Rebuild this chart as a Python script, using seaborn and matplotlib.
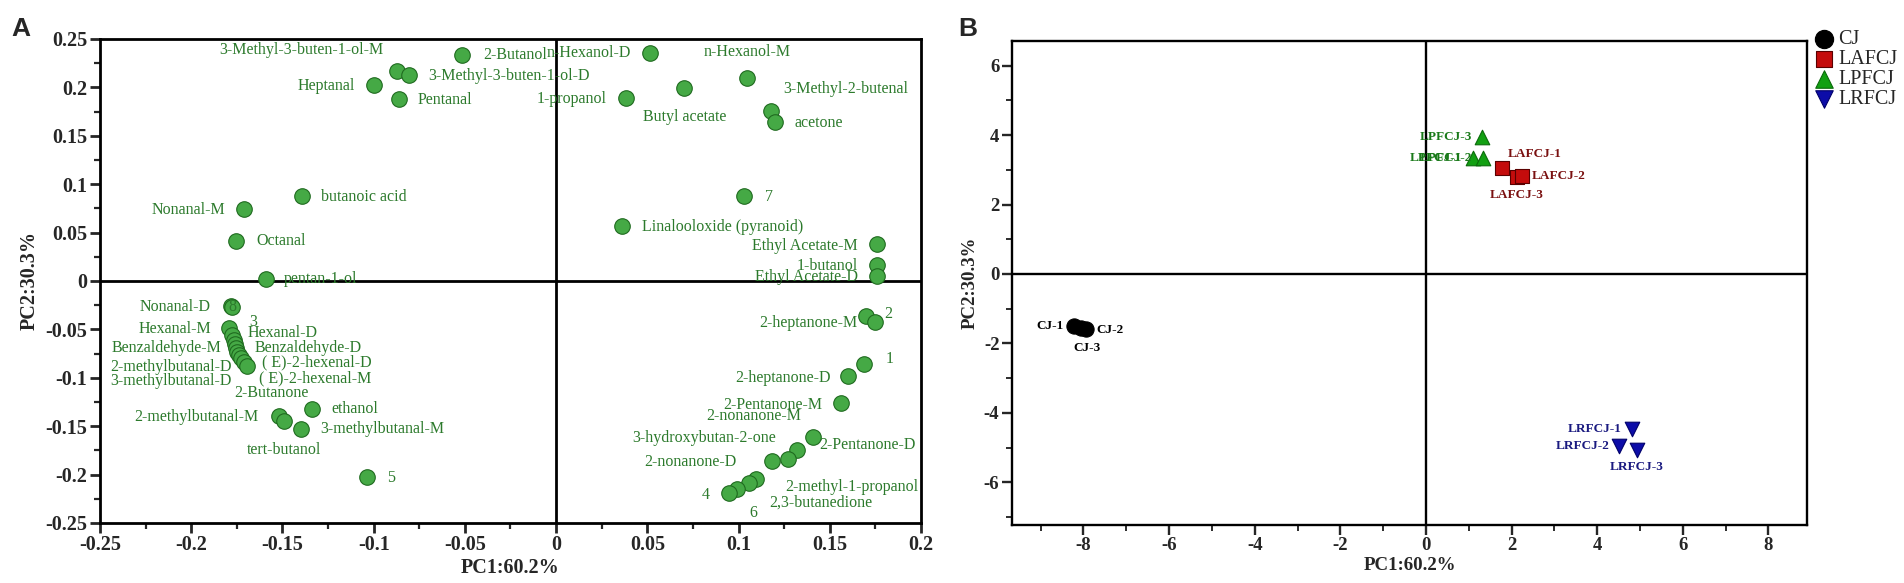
import numpy as np
import pandas as pd
import matplotlib
matplotlib.use("Agg")
import matplotlib.pyplot as plt
import seaborn as sns
from matplotlib.ticker import MultipleLocator

# ---- panel A: loadings ----
names = ["3-Methyl-3-buten-1-ol-M", "3-Methyl-3-buten-1-ol-D", "Heptanal", "Pentanal", "2-Butanol",
         "n-Hexanol-D", "n-Hexanol-M", "Butyl acetate", "1-propanol", "3-Methyl-2-butenal", "acetone",
         "7", "Linalooloxide (pyranoid)", "Ethyl Acetate-M", "1-butanol", "Ethyl Acetate-D",
         "butanoic acid", "Nonanal-M", "Octanal", "pentan-1-ol", "Nonanal-D", "8",
         "Hexanal-M", "3", "Hexanal-D", "Benzaldehyde-M", "Benzaldehyde-D", "2-methylbutanal-D",
         "( E)-2-hexenal-D", "3-methylbutanal-D", "( E)-2-hexenal-M", "2-Butanone",
         "2-methylbutanal-M", "tert-butanol", "ethanol", "3-methylbutanal-M", "5",
         "2-heptanone-M", "2", "1", "2-heptanone-D", "2-Pentanone-M", "2-nonanone-M", "2-Pentanone-D",
         "3-hydroxybutan-2-one", "2-nonanone-D", "2-methyl-1-propanol", "2,3-butanedione", "6", "4"]
pc1 = [-0.0872, -0.0806, -0.0998, -0.0861, -0.0515,
       0.0515, 0.1047, 0.0702, 0.0384, 0.1179, 0.1201,
       0.1031, 0.0362, 0.176, 0.176, 0.176,
       -0.1393, -0.1711, -0.1754, -0.159, -0.1782, -0.1776,
       -0.1793, -0.1776, -0.1765, -0.176, -0.1754, -0.1749,
       -0.1738, -0.1727, -0.1711, -0.1694,
       -0.1519, -0.1491, -0.1338, -0.1398, -0.1036,
       0.170, 0.1749, 0.1689, 0.1601, 0.1563, 0.1409, 0.1321,
       0.1272, 0.1184, 0.1096, 0.1058, 0.0992, 0.0948]
pc2 = [0.2169, 0.2128, 0.2025, 0.188, 0.2335,
       0.2355, 0.2097, 0.1994, 0.189, 0.1756, 0.1643,
       0.0878, 0.0568, 0.0382, 0.0165, 0.0052,
       0.0878, 0.0744, 0.0413, 0.0021, -0.0258, -0.0269,
       -0.0486, -0.0558, -0.0610, -0.0651, -0.0692, -0.0733,
       -0.0764, -0.0795, -0.0837, -0.0878,
       -0.1395, -0.1446, -0.1322, -0.1529, -0.2025,
       -0.0362, -0.0424, -0.0857, -0.0981, -0.126, -0.1612, -0.1746,
       -0.1839, -0.1860, -0.2045, -0.2087, -0.2149, -0.219]

# label placement (offset in pixels from the point, alignment)
label_pos = {
    "3-Methyl-3-buten-1-ol-M": (-14, 21, "right"), "3-Methyl-3-buten-1-ol-D": (19, -1, "left"),
    "Heptanal": (-19, -1, "right"), "Pentanal": (19, -1, "left"), "2-Butanol": (21, 0, "left"),
    "n-Hexanol-D": (-19, 0, "right"), "n-Hexanol-M": (0, 26, "center"), "Butyl acetate": (1, -29, "center"),
    "1-propanol": (-20, -1, "right"), "3-Methyl-2-butenal": (12, 22, "left"), "acetone": (19, -1, "left"),
    "7": (21, -1, "left"), "Linalooloxide (pyranoid)": (20, -1, "left"),
    "Ethyl Acetate-M": (-19, -2, "right"), "1-butanol": (-19, -1, "right"), "Ethyl Acetate-D": (-19, -1, "right"),
    "butanoic acid": (19, -1, "left"), "Nonanal-M": (-19, -1, "right"), "Octanal": (20, 0, "left"),
    "pentan-1-ol": (18, 0, "left"), "Nonanal-D": (-20, -1, "right"), "8": (0, 0, "center"),
    "Hexanal-M": (-18, -1, "right"), "3": (17, 13, "left"), "Hexanal-D": (13, 7, "left"),
    "Benzaldehyde-M": (-14, -4, "right"), "Benzaldehyde-D": (18, 0, "left"),
    "2-methylbutanal-D": (-5, -15, "right"), "( E)-2-hexenal-D": (23, -7, "left"),
    "3-methylbutanal-D": (-9, -23, "right"), "( E)-2-hexenal-M": (15, -16, "left"),
    "2-Butanone": (24, -27, "center"), "2-methylbutanal-M": (-20, -1, "right"),
    "tert-butanol": (0, -29, "center"), "ethanol": (19, 0, "left"), "3-methylbutanal-M": (19, 0, "left"),
    "5": (20, -1, "left"), "2-heptanone-M": (-107, -7, "left"), "2": (9, 8, "left"), "1": (21, 5, "left"),
    "2-heptanone-D": (-113, -2, "left"), "2-Pentanone-M": (-118, -2, "left"),
    "2-nonanone-M": (-107, 21, "left"), "2-Pentanone-D": (22, 5, "left"),
    "3-hydroxybutan-2-one": (-156, 21, "left"), "2-nonanone-D": (-128, -1, "left"),
    "2-methyl-1-propanol": (29, -8, "left"), "2,3-butanedione": (20, -20, "left"),
    "6": (16, -24, "center"), "4": (-19, -2, "right"),
}

a_xticks = [-0.25, -0.2, -0.15, -0.1, -0.05, 0, 0.05, 0.1, 0.15, 0.2]
a_xlabels = ["-0.25", "-0.2", "-0.15", "-0.1", "-0.05", "0", "0.05", "0.1", "0.15", "0.2"]
a_yticks = [-0.25, -0.2, -0.15, -0.1, -0.05, 0, 0.05, 0.1, 0.15, 0.2, 0.25]
a_ylabels = ["-0.25", "-0.2", "-0.15", "-0.1", "-0.05", "0", "0.05", "0.1", "0.15", "0.2", "0.25"]

# ---- panel B: scores ----
samples = ["CJ-1", "CJ-3", "CJ-2", "LAFCJ-1", "LAFCJ-3", "LAFCJ-2",
           "LPFCJ-3", "LPFCJ-1", "LPFCJ-2", "LRFCJ-1", "LRFCJ-2", "LRFCJ-3"]
groups = ["CJ", "CJ", "CJ", "LAFCJ", "LAFCJ", "LAFCJ",
          "LPFCJ", "LPFCJ", "LPFCJ", "LRFCJ", "LRFCJ", "LRFCJ"]
score1 = [-8.22, -8.05, -7.94, 1.78, 2.12, 2.24, 1.31, 1.10, 1.33, 4.81, 4.50, 4.93]
score2 = [-1.50, -1.55, -1.58, 3.06, 2.79, 2.83, 3.95, 3.34, 3.34, -4.47, -4.96, -5.07]
group_order = ["CJ", "LAFCJ", "LPFCJ", "LRFCJ"]

sample_pos = {
    "CJ-1": (-10, 0, "right"), "CJ-2": (10, -1, "left"), "CJ-3": (6, -20, "center"),
    "LAFCJ-1": (6, 14, "left"), "LAFCJ-2": (10, 0, "left"), "LAFCJ-3": (0, -18, "center"),
    "LPFCJ-3": (-10, 0, "right"), "LPFCJ-1": (-11, 0, "right"), "LPFCJ-2": (-11, 0, "right"),
    "LRFCJ-1": (-10, 0, "right"), "LRFCJ-2": (-9, 0, "right"), "LRFCJ-3": (0, -17, "center"),
}

b_ticks = [-8, -6, -4, -2, 0, 2, 4, 6, 8]
b_yticks = [-6, -4, -2, 0, 2, 4, 6]

sns.set_style("white")
plt.rcParams['font.family'] = ['Liberation Serif', 'DejaVu Serif']
plt.rcParams['axes.unicode_minus'] = False

marker_map = {"CJ": "o", "LAFCJ": "s", "LPFCJ": "^", "LRFCJ": "v"}
face_map = {"CJ": "black", "LAFCJ": "#c40c0c", "LPFCJ": "#12a012", "LRFCJ": "#0c0ca8"}
edge_map = {"CJ": "black", "LAFCJ": "#5a0000", "LPFCJ": "#0a6a0a", "LRFCJ": "#00006a"}
text_map = {"CJ": "black", "LAFCJ": "#7a1010", "LPFCJ": "#1a7a1a", "LRFCJ": "#1a1a80"}
size_map = {"CJ": 120, "LAFCJ": 95, "LPFCJ": 110, "LRFCJ": 110}

fig = plt.figure(figsize=(19.04, 5.83), dpi=100)
axA = fig.add_axes([100 / 1904, 60 / 583, 821 / 1904, 484 / 583])
axB = fig.add_axes([1012 / 1904, 58 / 583, 795 / 1904, 484 / 583])

# panel A
dfA = pd.DataFrame({"name": names, "pc1": pc1, "pc2": pc2})
axA.axhline(0, color="black", lw=2.0, zorder=1)
axA.axvline(0, color="black", lw=2.0, zorder=1)
sns.scatterplot(data=dfA, x="pc1", y="pc2", ax=axA, s=125, color="#45a945",
                edgecolor="#1f6a1f", linewidth=0.8, zorder=3)
for n, x, y in zip(names, pc1, pc2):
    dx, dy, ha = label_pos[n]
    axA.annotate(n, (x, y), xytext=(dx, dy), textcoords="offset pixels", ha=ha, va="center",
                 fontsize=11.5, color="#2c7a2c", zorder=4)
axA.set_xlim(-0.25, 0.2)
axA.set_ylim(-0.25, 0.25)
axA.set_xticks(a_xticks, labels=a_xlabels, fontweight="bold", fontsize=14.5)
axA.set_yticks(a_yticks, labels=a_ylabels, fontweight="bold", fontsize=14.5)
axA.xaxis.set_minor_locator(MultipleLocator(0.025))
axA.yaxis.set_minor_locator(MultipleLocator(0.025))
axA.set_xlabel("PC1:60.2%", fontweight="bold", fontsize=14.5, labelpad=2)
axA.set_ylabel("PC2:30.3%", fontweight="bold", fontsize=14.5, labelpad=4)

# panel B
dfB = pd.DataFrame({"sample": samples, "group": groups, "s1": score1, "s2": score2})
axB.axhline(0, color="black", lw=1.7, zorder=1)
axB.axvline(0, color="black", lw=1.7, zorder=1)
for g in group_order:
    sub = dfB[dfB["group"] == g]
    sns.scatterplot(data=sub, x="s1", y="s2", ax=axB, marker=marker_map[g], s=size_map[g],
                    color=face_map[g], edgecolor=edge_map[g], linewidth=0.8, label=g, zorder=3)
for _, r in dfB.iterrows():
    dx, dy, ha = sample_pos[r["sample"]]
    axB.annotate(r["sample"], (r["s1"], r["s2"]), xytext=(dx, dy), textcoords="offset pixels",
                 ha=ha, va="center", fontsize=9.5, fontweight="bold", color=text_map[r["group"]], zorder=4)
axB.set_xlim(-9.67, 8.9)
axB.set_ylim(-7.23, 6.71)
axB.set_xticks(b_ticks, labels=[str(t) for t in b_ticks], fontweight="bold", fontsize=13.5)
axB.set_yticks(b_yticks, labels=[str(t) for t in b_yticks], fontweight="bold", fontsize=13.5)
axB.xaxis.set_minor_locator(MultipleLocator(1))
axB.yaxis.set_minor_locator(MultipleLocator(1))
axB.set_xlabel("PC1:60.2%", fontweight="bold", fontsize=13.6, labelpad=2)
axB.set_ylabel("PC2:30.3%", fontweight="bold", fontsize=13.6, labelpad=4)
axB.legend(loc="upper left", bbox_to_anchor=(1812 / 1904, 1 - 30 / 583), bbox_transform=fig.transFigure,
           frameon=False, fontsize=14.5, handletextpad=0.1, borderaxespad=0, labelspacing=0.05,
           borderpad=0, handlelength=1.2, markerscale=1.2)

for ax, lw in [(axA, 2.0), (axB, 1.7)]:
    for sp in ax.spines.values():
        sp.set_linewidth(lw)
        sp.set_color("black")
    ax.tick_params(which="major", direction="out", length=7, width=lw, bottom=True, left=True, pad=2)
    ax.tick_params(which="minor", direction="out", length=4.5, width=lw * 0.8, bottom=True, left=True)

fig.text(11 / 1904, 1 - 29 / 583, "A", fontsize=19, fontweight="bold", family="Liberation Sans", va="center")
fig.text(958 / 1904, 1 - 29 / 583, "B", fontsize=19, fontweight="bold", family="Liberation Sans", va="center")

fig.savefig("out.png", dpi=100)
